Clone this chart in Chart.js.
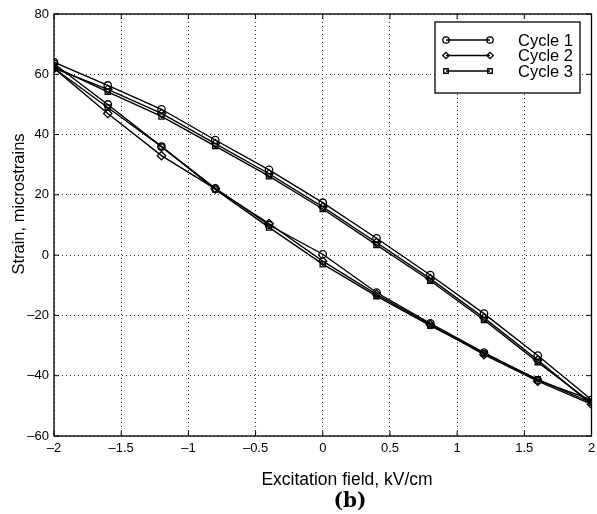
<!DOCTYPE html>
<html>
<head>
<meta charset="utf-8">
<script src="https://cdn.jsdelivr.net/npm/chart.js@4.4.1/dist/chart.umd.min.js"></script>
<style>
  html, body { margin: 0; padding: 0; background: #fff; }
  #wrap { width: 597px; height: 514px; position: relative; }
</style>
</head>
<body>
<div id="wrap"><canvas id="hyst"></canvas></div>
<script>
// excitation field sweep: -2 -> 2 kV/cm and back again
const fieldPath = [-2, -1.6, -1.2, -0.8, -0.4, 0, 0.4, 0.8, 1.2, 1.6, 2,
                   1.6, 1.2, 0.8, 0.4, 0, -0.4, -0.8, -1.2, -1.6, -2];

// strain (microstrains) along the sweep, one list per cycle
const cycle1 = [64, 56.3, 48.4, 38.2, 28.3, 17.4, 5.6, -6.6, -19.4, -33.3, -48,
                -41.5, -32.3, -22.6, -12.4, 0.3, 10, 22.2, 36, 50, 63.5];
const cycle2 = [62, 55, 47, 37, 27, 16, 4.2, -7.8, -20.8, -34.8, -49.5,
                -41.8, -33, -23, -13, -2, 10.5, 22, 33, 47, 62];
const cycle3 = [62.5, 54.2, 46, 36.2, 26.2, 15.3, 3.4, -8.5, -21.5, -35.5, -49,
                -41.2, -32.6, -23.4, -13.6, -3, 9.2, 21.8, 36, 49, 62];

const seriesNames = ["Cycle 1", "Cycle 2", "Cycle 3"];
const markers = ["circle", "rectRot", "rect"];

const xTicks = [-2, -1.5, -1, -0.5, 0, 0.5, 1, 1.5, 2];
const yTicks = [-60, -40, -20, 0, 20, 40, 60, 80];

const FONT = "'Liberation Sans', Arial, Helvetica, sans-serif";
const INK = "#000";

const toPoints = (ys) => ys.map((y, i) => ({ x: fieldPath[i], y: y }));
const fmt = (v) => (v < 0 ? "\u2013" + Math.abs(v) : String(v));

const datasets = [cycle1, cycle2, cycle3].map((ys, i) => ({
  label: seriesNames[i],
  data: toPoints(ys),
  showLine: true,
  borderColor: INK,
  borderWidth: 1.4,
  backgroundColor: "rgba(0,0,0,0)",
  pointStyle: markers[i],
  pointRadius: i === 1 ? 4.2 : 3.7,
  pointBorderWidth: 1.3,
  pointBorderColor: INK,
  pointBackgroundColor: "rgba(0,0,0,0)",
  tension: 0,
}));

// frame around the plot, inward ticks, labels and the legend box
const framePlugin = {
  id: "frame",
  afterDraw(chart) {
    const { ctx, chartArea: a, scales } = chart;
    const tl = 5;
    ctx.save();
    ctx.strokeStyle = INK;
    ctx.lineWidth = 1.3;
    ctx.strokeRect(a.left, a.top, a.right - a.left, a.bottom - a.top);

    ctx.lineWidth = 1;
    ctx.beginPath();
    xTicks.forEach((v) => {
      const px = scales.x.getPixelForValue(v);
      ctx.moveTo(px, a.bottom); ctx.lineTo(px, a.bottom - tl);
      ctx.moveTo(px, a.top); ctx.lineTo(px, a.top + tl);
    });
    yTicks.forEach((v) => {
      const py = scales.y.getPixelForValue(v);
      ctx.moveTo(a.left, py); ctx.lineTo(a.left + tl, py);
      ctx.moveTo(a.right, py); ctx.lineTo(a.right - tl, py);
    });
    ctx.stroke();

    // axis titles
    ctx.fillStyle = INK;
    ctx.textAlign = "center";
    ctx.textBaseline = "middle";
    ctx.font = "17.5px " + FONT;
    ctx.fillText("Excitation field, kV/cm", 347, 480);
    ctx.font = "bold 20px 'DejaVu Serif', 'Liberation Serif', serif";
    ctx.fillText("(b)", 350, 502);

    ctx.save();
    ctx.translate(19, 204);
    ctx.rotate(-Math.PI / 2);
    ctx.font = "16.5px " + FONT;
    ctx.fillText("Strain, microstrains", 0, 0);
    ctx.restore();

    // legend
    const box = { x: 435, y: 22, w: 145, h: 71 };
    ctx.fillStyle = "#fff";
    ctx.fillRect(box.x, box.y, box.w, box.h);
    ctx.strokeStyle = INK;
    ctx.lineWidth = 1.3;
    ctx.strokeRect(box.x, box.y, box.w, box.h);
    const rows = [40, 55.5, 71];
    chart.data.datasets.forEach((ds, i) => {
      const y = rows[i];
      ctx.beginPath();
      ctx.moveTo(446, y); ctx.lineTo(490, y);
      ctx.lineWidth = 1.4;
      ctx.strokeStyle = INK;
      ctx.stroke();
      [446, 490].forEach((x) => {
        ctx.lineWidth = 1.3;
        ctx.strokeStyle = INK;
        ctx.fillStyle = "rgba(0,0,0,0)";
        Chart.helpers.drawPoint(ctx, { pointStyle: ds.pointStyle, radius: 3.2, rotation: 0, borderWidth: 1.3 }, x, y);
      });
      ctx.fillStyle = INK;
      ctx.font = "16.5px " + FONT;
      ctx.textAlign = "right";
      ctx.fillText(ds.label, 573, y + 1);
    });
    ctx.restore();
  },
};

new Chart(document.getElementById("hyst"), {
  type: "scatter",
  data: { datasets },
  plugins: [framePlugin],
  options: {
    responsive: true,
    maintainAspectRatio: false,
    animation: false,
    layout: { padding: { top: 14, right: 4, bottom: 0, left: 0 } },
    plugins: {
      legend: { display: false },
      tooltip: { enabled: false },
    },
    scales: {
      x: {
        type: "linear",
        min: -2,
        max: 2,
        afterBuildTicks: (s) => { s.ticks = xTicks.map((v) => ({ value: v })); },
        afterFit: (s) => { s.height = 78; s.paddingLeft = 0; s.paddingRight = 0; },
        ticks: {
          callback: (v) => fmt(v),
          color: INK,
          padding: 5,
          maxRotation: 0,
          font: { family: FONT, size: 13 },
        },
        grid: { color: "rgba(0,0,0,0.8)", lineWidth: 1, drawTicks: false },
        border: { display: false, dash: [1, 3] },
      },
      y: {
        type: "linear",
        min: -60,
        max: 80,
        afterBuildTicks: (s) => { s.ticks = yTicks.map((v) => ({ value: v })); },
        afterFit: (s) => { s.width = 54; },
        ticks: {
          callback: (v) => fmt(v),
          color: INK,
          padding: 5,
          font: { family: FONT, size: 13 },
        },
        grid: { color: "rgba(0,0,0,0.8)", lineWidth: 1, drawTicks: false },
        border: { display: false, dash: [1, 3] },
      },
    },
  },
});
</script>
</body>
</html>
